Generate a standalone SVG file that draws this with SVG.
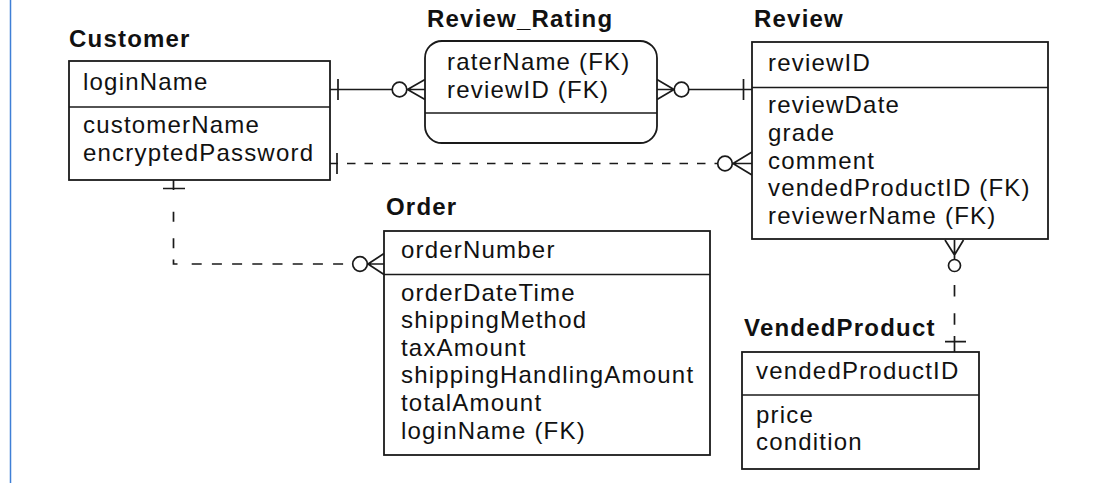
<svg xmlns="http://www.w3.org/2000/svg" width="1105" height="483" viewBox="0 0 1105 483">
<style>
text{font-family:"Liberation Sans",Arial,sans-serif;font-size:24px;letter-spacing:1.2px;fill:#111}
.t{font-weight:bold}
.box{fill:#fff;stroke:#1a1a1a;stroke-width:1.8}
.ln{fill:none;stroke:#1a1a1a;stroke-width:1.7}
.d1{stroke-dasharray:8.5 9}
.d2{stroke-dasharray:10 16.5}
.d3{stroke-dasharray:10 10.2}
.d4{stroke-dasharray:11.5 16.8}
.c{fill:#fff;stroke:#1a1a1a;stroke-width:1.7}
</style>
<rect width="1105" height="483" fill="#fff"/>
<line x1="10.5" y1="0" x2="10.5" y2="483" stroke="#3f7fd6" stroke-width="1.5"/>

<g id="connectors">
  <!-- Customer - Review_Rating -->
  <path class="ln" d="M330,89.5 H392 M338,79 V100"/>
  <circle class="c" cx="399.5" cy="89.5" r="7.3"/>
  <path class="ln" d="M407.5,89.5 L425,79.5 M407.5,89.5 L425,99.5 M406.5,89.5 H425"/>
  <!-- Review_Rating - Review -->
  <path class="ln" d="M674,89.5 L657,79.5 M674,89.5 L657,99.5 M657,89.5 H674.5"/>
  <circle class="c" cx="681.5" cy="89.5" r="7.3"/>
  <path class="ln" d="M688.8,89.5 H752 M743.5,79 V100"/>
  <!-- Customer - Review (dashed) -->
  <path class="ln" d="M330,163.5 H338 M337,153 V174"/>
  <path class="ln d1" d="M347,163.5 H718"/>
  <circle class="c" cx="725" cy="163.5" r="7.3"/>
  <path class="ln" d="M733,163.5 L752,152 M733,163.5 L752,175 M732,163.5 H752"/>
  <!-- Customer - Order (dashed) -->
  <path class="ln" d="M173.5,180 V190 M163,188.5 H185"/>
  <path class="ln d2" d="M173.5,211.7 V260"/>
  <path class="ln" d="M173.5,259.5 V264 H177.5"/>
  <path class="ln d3" d="M191.7,264 H353"/>
  <circle class="c" cx="360" cy="264" r="7.3"/>
  <path class="ln" d="M368,264 L384,253.5 M368,264 L384,274.5 M367,264 H384"/>
  <!-- Review - VendedProduct (dashed) -->
  <path class="ln" d="M945,240 L954.5,255 M963.5,240 L954.5,255 M954.5,240 V259.5"/>
  <circle class="c" cx="954.5" cy="265.5" r="6"/>
  <path class="ln d4" d="M954.5,285 V337"/>
  <path class="ln" d="M954.5,336 V352 M945,341.7 H966"/>
</g>

<g id="Customer">
  <text class="t" x="69" y="47">Customer</text>
  <rect class="box" x="69" y="61" width="261" height="119"/>
  <line class="ln" x1="69" y1="107" x2="330" y2="107"/>
  <text x="83" y="90">loginName</text>
  <text x="83" y="133">customerName</text>
  <text x="83" y="161">encryptedPassword</text>
</g>

<g id="Review_Rating">
  <text class="t" x="427" y="27">Review_Rating</text>
  <rect class="box" x="425" y="41" width="232" height="102" rx="17" ry="17"/>
  <line class="ln" x1="425" y1="113" x2="657" y2="113"/>
  <text x="447" y="70">raterName (FK)</text>
  <text x="447" y="98">reviewID (FK)</text>
</g>

<g id="Review">
  <text class="t" x="754" y="27">Review</text>
  <rect class="box" x="752" y="42" width="296" height="197"/>
  <line class="ln" x1="752" y1="87.5" x2="1048" y2="87.5"/>
  <text x="768" y="70.5">reviewID</text>
  <text x="768" y="113">reviewDate</text>
  <text x="768" y="141">grade</text>
  <text x="768" y="168.5">comment</text>
  <text x="768" y="196">vendedProductID (FK)</text>
  <text x="768" y="224">reviewerName (FK)</text>
</g>

<g id="Order">
  <text class="t" x="386" y="215">Order</text>
  <rect class="box" x="384" y="231" width="326" height="224"/>
  <line class="ln" x1="384" y1="274.5" x2="710" y2="274.5"/>
  <text x="401" y="258">orderNumber</text>
  <text x="401" y="300.5">orderDateTime</text>
  <text x="401" y="328">shippingMethod</text>
  <text x="401" y="355.5">taxAmount</text>
  <text x="401" y="383">shippingHandlingAmount</text>
  <text x="401" y="411">totalAmount</text>
  <text x="401" y="438.5">loginName (FK)</text>
</g>

<g id="VendedProduct">
  <text class="t" x="744" y="336">VendedProduct</text>
  <rect class="box" x="742" y="352" width="237" height="117"/>
  <line class="ln" x1="742" y1="395" x2="979" y2="395"/>
  <text x="756" y="379">vendedProductID</text>
  <text x="756" y="423">price</text>
  <text x="756" y="450">condition</text>
</g>
</svg>
